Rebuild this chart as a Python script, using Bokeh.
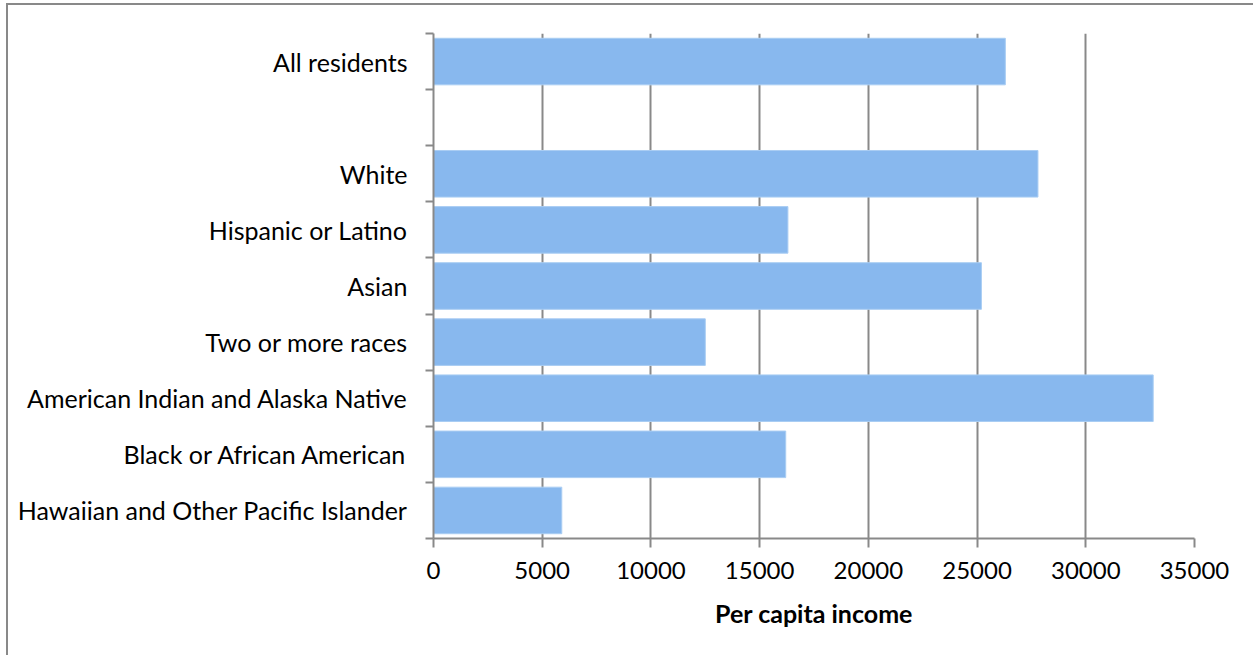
from bokeh.plotting import figure
from bokeh.models import Range1d, FixedTicker, ColumnDataSource, Column
from bokeh.embed import file_html
from bokeh.resources import INLINE

# Data (top to bottom as in the chart; "" is an empty slot)
categories = ["All residents", "", "White", "Hispanic or Latino", "Asian",
              "Two or more races", "American Indian and Alaska Native",
              "Black or African American", "Hawaiian and Other Pacific Islander"]
income = [26300, None, 27800, 16300, 25200, 12500, 33100, 16200, 5900]
x_ticks = [0, 5000, 10000, 15000, 20000, 25000, 30000, 35000]
x_label = "Per capita income"

n = len(categories)
ys = [i + 0.5 for i, v in enumerate(income) if v is not None]
vals = [v for v in income if v is not None]
src = ColumnDataSource(dict(y=ys, right=vals))

FONT = "Lato"
GRAY = "#898989"

p = figure(frame_width=759, frame_height=503,
           width=1245, height=650,
           min_border_left=425, min_border_right=61,
           min_border_top=28, min_border_bottom=119,
           x_range=Range1d(0, 35000), y_range=Range1d(n, 0),
           output_backend="svg", toolbar_location=None,
           background_fill_color="white", border_fill_color="white")
p.outline_line_color = None

p.hbar(y="y", left=0, right="right", height=0.83, source=src,
       fill_color="#88B8EE", line_color="#A9CDF3", line_width=1)

# x axis
xa = p.xaxis[0]
xa.ticker = FixedTicker(ticks=x_ticks)
xa.axis_line_color = GRAY
xa.axis_line_width = 2
xa.major_tick_line_color = GRAY
xa.major_tick_line_width = 2
xa.major_tick_out = 9
xa.major_tick_in = 0
xa.minor_tick_line_color = None
xa.major_label_text_font = FONT
xa.major_label_text_font_size = "24px"
xa.major_label_text_color = "black"
xa.major_label_standoff = 14
xa.axis_label = x_label
xa.axis_label_text_font = FONT
xa.axis_label_text_font_style = "bold"
xa.axis_label_text_font_size = "25px"
xa.axis_label_text_color = "black"
xa.axis_label_standoff = 16

# y axis: labels at slot centres, ticks at slot boundaries
ya = p.yaxis[0]
centers = [i + 0.5 for i in range(n)]
bounds = [float(i) for i in range(n + 1)]
ya.ticker = FixedTicker(ticks=centers, minor_ticks=bounds)
ya.major_label_overrides = {c: (lab if lab else " ") for c, lab in zip(centers, categories)}
ya.axis_line_color = GRAY
ya.axis_line_width = 2
ya.major_tick_line_color = None
ya.major_tick_out = 0
ya.major_tick_in = 0
ya.minor_tick_line_color = GRAY
ya.minor_tick_line_width = 2
ya.minor_tick_out = 8
ya.minor_tick_in = 0
ya.major_label_text_font = FONT
ya.major_label_text_font_size = "25px"
ya.major_label_text_color = "black"
ya.major_label_standoff = 18

p.xgrid.ticker = FixedTicker(ticks=x_ticks)
p.xgrid.grid_line_color = GRAY
p.xgrid.grid_line_width = 2
p.ygrid.grid_line_color = None

p.styles = {"border-left": "2px solid " + GRAY, "border-top": "2px solid " + GRAY}
layout = Column(p, styles={"padding-left": "6px", "padding-top": "3px"})

open("out.html", "w").write(file_html(layout, INLINE))
